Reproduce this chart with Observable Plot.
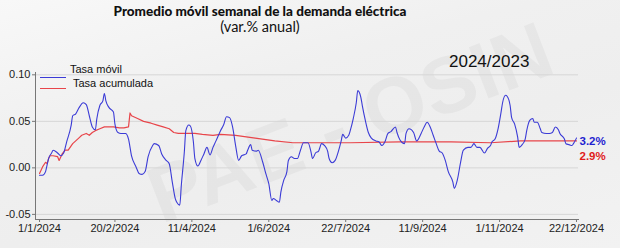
<!DOCTYPE html>
<html><head><meta charset="utf-8">
<script src="https://cdn.jsdelivr.net/npm/d3@7"></script>
<script src="https://cdn.jsdelivr.net/npm/@observablehq/plot@0.6"></script>
<style>
html,body{margin:0;padding:0;}
body{width:620px;height:248px;overflow:hidden;position:relative;
  background:linear-gradient(165deg,#f8f8f8 0%,#f0f0f0 35%,#eeeeee 60%,#f2f2f2 100%);
  font-family:"Liberation Sans",Arial,sans-serif;color:#111;}
#wm{position:absolute;left:168px;top:150px;transform-origin:0 100%;transform:rotate(-21deg);
  font-family:"Liberation Sans",Arial,sans-serif;font-weight:700;font-size:80px;line-height:normal;color:rgba(0,0,0,0.035);white-space:nowrap;}
#title{position:absolute;left:260px;top:3px;transform:translateX(-50%);font-family:Lato,"Liberation Sans",sans-serif;font-weight:900;font-size:13.5px;white-space:nowrap;}
#subtitle{position:absolute;left:260px;top:18px;transform:translateX(-50%);font-family:Lato,"Liberation Sans",sans-serif;font-weight:400;font-size:14.5px;white-space:nowrap;}
#period{position:absolute;left:449px;top:52px;font-family:"Liberation Sans",Arial,sans-serif;font-size:17px;white-space:nowrap;}
#chart{position:absolute;left:0;top:40px;}
.lg{position:absolute;font-size:11px;white-space:nowrap;color:#111;}
.lgl{position:absolute;height:0;width:26px;}
</style></head>
<body>
<div id="wm">PAE - OSIN</div>
<div id="title">Promedio móvil semanal de la demanda eléctrica</div>
<div id="subtitle">(var.% anual)</div>
<div id="chart"></div>
<div id="period">2024/2023</div>
<div class="lgl" style="left:40px;top:77px;border-top:1.3px solid #3b3bd6"></div>
<div class="lg" style="left:70px;top:63px">Tasa móvil</div>
<div class="lgl" style="left:40px;top:88px;border-top:1.3px solid #e8454a"></div>
<div class="lg" style="left:73px;top:77px">Tasa acumulada</div>
<script>
// Day offsets from 1 Jan 2024 and values
const movilDays = [0,2,4,5,6,8,9,12,14,16,18,21,22,24,26,29,31,33,35,37,38,40,42,43,44,46,49,50,52,54,57,59,61,64,66,68,70,72,75,76,79,81,84,86,88,90,91,93,94,96,97,99,100,102,103,105,107,109,111,113,115,117,120,122,124,126,128,130,132,134,137,138,140,141,144,145,148,150,152,154,155,157,159,160,162,164,165,167,169,171,173,175,178,180,181,183,185,187,189,191,192,194,196,198,200,201,203,205,206,208,210,211,213,214,216,218,220,223,225,227,229,231,233,236,237,239,242,243,245,248,250,253,255,257,259,261,263,265,267,269,271,274,275,277,279,281,284,286,288,290,292,295,297,299,300,302,304,306,307,309,310,312,313,315,317,318,320,322,323,325,327,328,330,332,333,336,338,340,342,344,345,348,349,351,353,354,356];
const movilValues = [-0.008,-0.008,-0.004,0.003,0.010,0.016,0.019,0.016,0.013,0.016,0.028,0.046,0.056,0.058,0.064,0.070,0.068,0.056,0.044,0.041,0.053,0.067,0.072,0.080,0.072,0.065,0.060,0.047,0.038,0.037,0.037,0.031,0.013,0.001,-0.006,-0.007,-0.004,0.012,0.024,0.026,0.024,0.015,0.008,0.0045,-0.015,-0.033,-0.037,-0.040,-0.019,0.017,0.040,0.046,0.045,0.028,0.010,0.002,0.008,0.015,0.022,0.014,0.022,0.029,0.040,0.046,0.055,0.054,0.044,0.024,0.008,0.013,0.015,0.019,0.025,0.019,0.018,0.019,0.006,-0.006,-0.017,-0.035,-0.033,-0.035,-0.037,-0.026,-0.013,-0.004,0.008,0.012,0.010,0.010,0.019,0.027,0.027,0.017,0.010,0.016,0.018,0.026,0.024,0.018,0.010,0.0055,0.008,0.017,0.029,0.036,0.032,0.035,0.040,0.053,0.070,0.083,0.076,0.067,0.051,0.038,0.032,0.029,0.028,0.024,0.028,0.037,0.039,0.044,0.038,0.030,0.026,0.037,0.042,0.038,0.029,0.037,0.044,0.049,0.044,0.035,0.026,0.018,0.016,0.008,-0.004,-0.015,-0.022,-0.013,0.0045,0.019,0.022,0.022,0.026,0.022,0.022,0.016,0.021,0.024,0.028,0.031,0.042,0.060,0.070,0.078,0.077,0.067,0.054,0.047,0.033,0.022,0.025,0.031,0.040,0.051,0.053,0.049,0.049,0.042,0.038,0.037,0.037,0.038,0.044,0.041,0.037,0.031,0.026,0.025,0.024,0.026,0.032];
const acumDays = [0,2,4,5,6,7,9,12,13,15,17,19,22,24,26,28,31,33,35,37,40,43,46,49,53,56,59,60,61,65,69,74,78,82,86,89,92,99,103,108,115,120,130,143,156,168,180,206,239,273,299,319,356];
const acumValues = [-0.006,0.001,0.006,0.0045,0.010,0.013,0.013,0.012,0.008,0.015,0.019,0.019,0.026,0.029,0.032,0.035,0.037,0.035,0.038,0.040,0.042,0.044,0.044,0.044,0.043,0.043,0.044,0.059,0.056,0.053,0.050,0.048,0.046,0.044,0.042,0.038,0.037,0.037,0.037,0.036,0.035,0.036,0.035,0.032,0.029,0.027,0.027,0.027,0.028,0.028,0.027,0.029,0.029];
const endLabels = ["3.2%","2.9%"];
const endValues = [0.032,0.029];
const xTickLabels = ["2024-01-01","2024-02-20","2024-04-11","2024-06-01","2024-07-22","2024-09-11","2024-11-01","2024-12-22"];
const yTicks = [-0.05,0,0.05,0.10];

const base = Date.UTC(2024,0,1);
const toDate = d => d3.utcDay.offset(new Date(base), d);
const movil = movilDays.map((d,i)=>({date:toDate(d), value:movilValues[i]}));
const acum = acumDays.map((d,i)=>({date:toDate(d), value:acumValues[i]}));
const last = movil[movil.length-1].date;
const labels = endLabels.map((t,i)=>({date:last, value:endValues[i], text:t}));
const xTicks = xTickLabels.map(s=>new Date(s+"T00:00:00Z"));
const fmt = d3.utcFormat("%-d/%-m/%Y");

const chart = Plot.plot({
  width:620, height:208,
  marginLeft:35, marginRight:42, marginTop:32, marginBottom:29,
  style:{background:"transparent", fontFamily:"Liberation Sans, Arial, sans-serif", fontSize:"11px", color:"#222"},
  x:{type:"utc", domain:[new Date(Date.UTC(2023,11,29,8)), new Date(Date.UTC(2024,11,23,8))]},
  y:{domain:[-0.0555,0.1025]},
  marks:[
    Plot.gridY(yTicks,{stroke:"#d6d6d6", strokeOpacity:1}),
    Plot.axisY(yTicks,{tickSize:3, tickPadding:2, tickFormat:d=>d.toFixed(2), label:null, stroke:"#777"}),
    Plot.axisX(xTicks,{tickSize:3, tickPadding:2, tickFormat:fmt, label:null, stroke:"#777"}),
    Plot.frame({anchor:"left", stroke:"#777"}),
    Plot.frame({anchor:"bottom", stroke:"#777"}),
    Plot.line(acum,{x:"date", y:"value", stroke:"#e8454a", strokeWidth:1.2}),
    Plot.line(movil,{x:"date", y:"value", stroke:"#3b3bd6", strokeWidth:1.1, curve:"monotone-x"}),
    Plot.text(labels.slice(0,1),{x:"date", y:"value", text:"text", textAnchor:"start", dx:3, dy:3,
      fill:"#1f1fd0", fontWeight:"bold", fontSize:11.5}),
    Plot.text(labels.slice(1),{x:"date", y:"value", text:"text", textAnchor:"start", dx:3, dy:15,
      fill:"#e01b1b", fontWeight:"bold", fontSize:11.5})
  ]
});
document.getElementById("chart").appendChild(chart);
</script>
</body></html>
